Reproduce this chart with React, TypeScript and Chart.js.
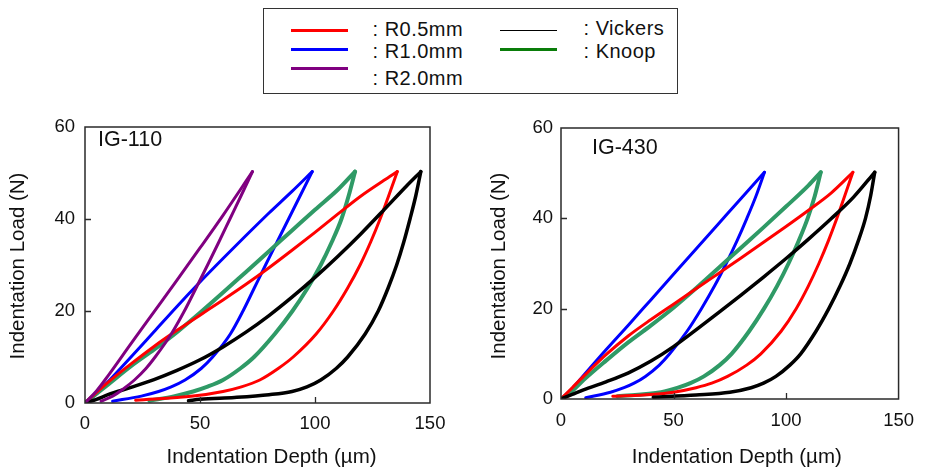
import React, { useEffect, useRef } from 'react';
import { Chart, registerables } from 'chart.js';

Chart.register(...registerables);

type Pt = [number, number];

const X_TICKS = [0, 50, 100, 150];
const Y_TICKS = [0, 20, 40, 60];
const X_TITLE = 'Indentation Depth (µm)';
const Y_TITLE = 'Indentation Load (N)';
const LEGEND_LEFT = ['R0.5mm', 'R1.0mm', 'R2.0mm'];
const LEGEND_RIGHT = ['Vickers', 'Knoop'];

const C_R05 = '#ff0000';
const C_R10 = '#0000ff';
const C_R20 = '#800080';
const C_VIC = '#000000';
const C_KNP = '#2f9a66';
const C_KNP_LEG = '#0a7d0a';

// ---------- IG-110 ----------
const IG110_R05_LOAD: Pt[] = [[0, 0], [5, 2.3], [10, 4.5], [20, 8.5], [30, 12.3], [40, 15.8], [50, 19.1], [60, 22.4], [70, 25.8], [80, 29.4], [90, 33.2], [100, 37.1], [110, 41.1], [120, 45], [130, 48.4], [135.8, 50.3]];
const IG110_R05_UNLOAD: Pt[] = [[135.8, 50.3], [132, 45], [128.3, 40], [124.2, 35], [119.6, 30], [114.2, 25], [108, 20], [100.5, 15], [90.5, 10], [84, 7.5], [76, 5], [68, 3.5], [60, 2.5], [47, 1.5], [22, 0.6]];
const IG110_R10_LOAD: Pt[] = [[0, 0], [5, 2], [10, 4.6], [20, 10], [30, 15.5], [40, 21], [50, 26.3], [60, 31.4], [70, 36.4], [80, 41.3], [90, 46], [98.8, 50.3]];
const IG110_R10_UNLOAD: Pt[] = [[98.8, 50.3], [93.5, 45], [88.5, 40], [83.5, 35], [78.5, 30], [73.6, 25], [68.7, 20], [63.2, 15], [55.5, 10], [50.5, 7.5], [43.5, 5], [37.5, 3.5], [32, 2.5], [24.5, 1.5], [12, 0.4]];
const IG110_R20_LOAD: Pt[] = [[0, 0], [5, 2.6], [10, 5.9], [20, 12.9], [30, 19.8], [40, 26.7], [50, 33.7], [60, 40.8], [72.8, 50.3]];
const IG110_R20_UNLOAD: Pt[] = [[72.8, 50.3], [67.8, 45], [63, 40], [58.2, 35], [53.3, 30], [48.3, 25], [43.2, 20], [37.5, 15], [30.5, 10], [26.5, 7.5], [21.5, 5], [16.5, 3], [12, 1.5], [7, 0.4]];
const IG110_VIC_LOAD: Pt[] = [[0, 0], [5, 0.8], [10, 1.8], [20, 3.4], [30, 5.1], [40, 7.1], [50, 9.4], [60, 12.2], [70, 15.4], [80, 19], [90, 23], [100, 27.3], [110, 31.9], [120, 36.8], [130, 42], [140, 47.3], [146, 50.3]];
const IG110_VIC_UNLOAD: Pt[] = [[146, 50.3], [143.8, 45], [141.3, 40], [138.6, 35], [135.5, 30], [131.8, 25], [127.5, 20], [121.8, 15], [114.2, 10], [109.2, 7.5], [102.5, 5], [96.5, 3.5], [90, 2.5], [80, 1.8], [65, 1.2], [50, 0.8], [45, 0.5]];
const IG110_KNP_LOAD: Pt[] = [[0, 0], [5, 2], [10, 4], [20, 8], [30, 11.6], [40, 15.4], [50, 19.6], [60, 24], [70, 28.5], [80, 33], [90, 37.5], [100, 42], [110, 46.4], [117.4, 50.3]];
const IG110_KNP_UNLOAD: Pt[] = [[117.4, 50.3], [114.6, 45], [111.5, 40], [107.3, 35], [102.5, 30], [96.8, 25], [90.2, 20], [82.5, 15], [73.5, 10], [67.5, 7.5], [60, 5], [53, 3.5], [47, 2.5], [39, 1.5], [28, 0.5]];

// ---------- IG-430 ----------
const IG430_R05_LOAD: Pt[] = [[0, 0], [5, 2.5], [10, 5], [20, 9.8], [30, 14], [40, 17.6], [50, 21], [60, 24.4], [70, 27.8], [80, 31.2], [90, 34.7], [100, 38.2], [110, 41.8], [120, 45.6], [129.7, 50.2]];
const IG430_R05_UNLOAD: Pt[] = [[129.7, 50.2], [126.1, 45], [122.6, 40], [118.8, 35], [114.6, 30], [109.9, 25], [104.5, 20], [97.8, 15], [88.8, 10], [82.5, 7.5], [74, 5], [67, 3.5], [60, 2.5], [50, 1.5], [40, 1], [23, 0.6]];
const IG430_R10_LOAD: Pt[] = [[0, 0], [5, 2.3], [10, 5.2], [20, 10.9], [30, 16.4], [40, 22], [50, 27.6], [60, 33.2], [70, 38.8], [80, 44.4], [90.4, 50.2]];
const IG430_R10_UNLOAD: Pt[] = [[90.4, 50.2], [86.7, 45], [82.6, 40], [78.2, 35], [73.4, 30], [68.2, 25], [62.4, 20], [56, 15], [48.3, 10], [43.7, 7.5], [37.5, 5], [32.5, 3.5], [28, 2.5], [22, 1.5], [11, 0.3]];
const IG430_VIC_LOAD: Pt[] = [[0, 0], [5, 1], [10, 2], [20, 3.8], [30, 5.8], [40, 8.4], [50, 11.6], [60, 15.3], [70, 19.1], [80, 23], [90, 27], [100, 31.1], [110, 35.4], [120, 39.9], [130, 44.7], [139.4, 50.2]];
const IG430_VIC_UNLOAD: Pt[] = [[139.4, 50.2], [137.6, 45], [135.3, 40], [132.1, 35], [128.4, 30], [124, 25], [119, 20], [113.3, 15], [106.5, 10], [101.7, 7.5], [95.5, 5], [90, 3.5], [84.5, 2.5], [75, 1.5], [60, 0.9], [41, 0.4]];
const IG430_KNP_LOAD: Pt[] = [[0, 0], [5, 1.8], [10, 4.2], [20, 8.5], [30, 12.6], [40, 16.3], [50, 20.2], [60, 24.5], [70, 29], [80, 33.5], [90, 38], [100, 42.6], [110, 47.3], [115.4, 50.2]];
const IG430_KNP_UNLOAD: Pt[] = [[115.4, 50.2], [112.8, 45], [109.6, 40], [105.6, 35], [101.1, 30], [96, 25], [90.2, 20], [83.6, 15], [75.8, 10], [70.5, 7.5], [63.5, 5], [57.5, 3.5], [52, 2.5], [44.5, 1.5], [25, 0.6]];

const FONT = '"Liberation Sans", Arial, Helvetica, sans-serif';

function ds(pts: Pt[], color: string, width: number) {
  const sorted = [...pts].sort((a, b) => a[0] - b[0]);
  return {
    data: sorted.map(([x, y]) => ({ x, y })),
    borderColor: color,
    backgroundColor: color,
    borderWidth: width,
    pointRadius: 0,
    cubicInterpolationMode: 'monotone' as const,
    fill: false,
    showLine: true,
    borderCapStyle: 'round' as const,
    borderJoinStyle: 'round' as const,
  };
}

const framePlugin = {
  id: 'frameDeco',
  afterDraw(chart: any, _args: any, opts: any) {
    const { ctx, chartArea } = chart;
    const { left, right, top, bottom } = chartArea;
    const xs = chart.scales.x;
    const ys = chart.scales.y;
    ctx.save();
    ctx.strokeStyle = '#2a2a2a';
    ctx.lineWidth = 1.5;
    ctx.strokeRect(left, top, right - left, bottom - top);
    ctx.lineWidth = 1.3;
    ctx.beginPath();
    for (const v of X_TICKS.slice(1, -1)) {
      const px = Math.round(xs.getPixelForValue(v)) + 0.5;
      ctx.moveTo(px, bottom);
      ctx.lineTo(px, bottom - 6);
    }
    for (const v of Y_TICKS.slice(1, -1)) {
      const py = Math.round(ys.getPixelForValue(v)) + 0.5;
      ctx.moveTo(left, py);
      ctx.lineTo(left + 6, py);
    }
    ctx.stroke();

    ctx.fillStyle = '#111';
    ctx.textBaseline = 'middle';
    ctx.textAlign = 'left';
    ctx.font = `21.5px ${FONT}`;
    ctx.fillText(opts.label, left + opts.labelDx, top + opts.labelDy);

    ctx.font = `20.5px ${FONT}`;
    ctx.textAlign = 'center';
    ctx.fillText(X_TITLE, (left + right) / 2 + opts.xTitleDx, opts.xTitleY);

    ctx.translate(opts.yTitleX, (top + bottom) / 2 + opts.yTitleDy);
    ctx.rotate(-Math.PI / 2);
    ctx.fillText(Y_TITLE, 0, 0);
    ctx.restore();
  },
};

type PanelProps = {
  left: number;
  datasets: any[];
  padTop: number;
  padRight: number;
  yWidth: number;
  xHeight: number;
  xPad: number;
  yPad: number;
  deco: any;
};

function Panel(p: PanelProps) {
  const ref = useRef<HTMLCanvasElement | null>(null);
  useEffect(() => {
    if (!ref.current) return;
    const chart = new Chart(ref.current, {
      type: 'line',
      data: { datasets: p.datasets },
      plugins: [framePlugin],
      options: {
        responsive: false,
        animation: false,
        devicePixelRatio: 1,
        layout: { padding: { top: p.padTop, right: p.padRight, left: 0, bottom: 0 } },
        plugins: {
          legend: { display: false },
          tooltip: { enabled: false },
          frameDeco: p.deco,
        } as any,
        scales: {
          x: {
            type: 'linear',
            min: 0,
            max: 150,
            grid: { display: false, drawTicks: false },
            border: { display: false },
            afterBuildTicks: (s: any) => {
              s.ticks = X_TICKS.map((v) => ({ value: v }));
            },
            afterFit: (s: any) => {
              s.height = p.xHeight;
            },
            ticks: {
              padding: p.xPad,
              maxRotation: 0,
              color: '#111',
              font: { family: FONT, size: 18.5 },
            },
          },
          y: {
            type: 'linear',
            min: 0,
            max: 60,
            grid: { display: false, drawTicks: false },
            border: { display: false },
            afterBuildTicks: (s: any) => {
              s.ticks = Y_TICKS.map((v) => ({ value: v }));
            },
            afterFit: (s: any) => {
              s.width = p.yWidth;
            },
            ticks: {
              padding: p.yPad,
              color: '#111',
              font: { family: FONT, size: 18.5 },
            },
          },
        },
      } as any,
    });
    return () => chart.destroy();
  }, []);
  return (
    <canvas
      ref={ref}
      width={460}
      height={374}
      style={{ position: 'absolute', left: p.left, top: 100, width: 460, height: 374 }}
    />
  );
}

const leftSets = [
  ds(IG110_R20_LOAD, C_R20, 3),
  ds(IG110_R20_UNLOAD, C_R20, 3),
  ds(IG110_VIC_LOAD, C_VIC, 3.5),
  ds(IG110_VIC_UNLOAD, C_VIC, 3.5),
  ds(IG110_R05_LOAD, C_R05, 3),
  ds(IG110_R05_UNLOAD, C_R05, 3),
  ds(IG110_KNP_LOAD, C_KNP, 4),
  ds(IG110_KNP_UNLOAD, C_KNP, 4),
  ds(IG110_R10_LOAD, C_R10, 3),
  ds(IG110_R10_UNLOAD, C_R10, 3),
];

const rightSets = [
  ds(IG430_VIC_LOAD, C_VIC, 3.5),
  ds(IG430_VIC_UNLOAD, C_VIC, 3.5),
  ds(IG430_R05_LOAD, C_R05, 3),
  ds(IG430_R05_UNLOAD, C_R05, 3),
  ds(IG430_KNP_LOAD, C_KNP, 4),
  ds(IG430_KNP_UNLOAD, C_KNP, 4),
  ds(IG430_R10_LOAD, C_R10, 3),
  ds(IG430_R10_UNLOAD, C_R10, 3),
];

const legendText: React.CSSProperties = {
  position: 'absolute',
  fontSize: 20,
  lineHeight: '20px',
  letterSpacing: '0.5px',
  color: '#111',
  whiteSpace: 'nowrap',
  fontFamily: FONT,
};

function Legend() {
  const lineStyle = (x: number, y: number, color: string, h: number): React.CSSProperties => ({
    position: 'absolute',
    left: x,
    top: y - h / 2,
    width: 57,
    height: h,
    background: color,
  });
  const leftColors = [C_R05, C_R10, C_R20];
  const leftLineY = [31, 50, 69];
  const leftTextY = [19.5, 41, 68.5];
  const rightColors = [C_VIC, C_KNP_LEG];
  const rightLineY = [31, 50];
  const rightLineH = [1.5, 3.5];
  const rightTextY = [18.5, 41.5];
  return (
    <div
      style={{
        position: 'absolute',
        left: 263,
        top: 8,
        width: 413,
        height: 84,
        border: '1.5px solid #333',
      }}
    >
      {LEGEND_LEFT.map((name, i) => (
        <React.Fragment key={name}>
          <div style={lineStyle(291 - 264.5, leftLineY[i] - 9.5, leftColors[i], 3.5)} />
          <span style={{ ...legendText, left: 373 - 264.5, top: leftTextY[i] - 9.5 }}>: {name}</span>
        </React.Fragment>
      ))}
      {LEGEND_RIGHT.map((name, i) => (
        <React.Fragment key={name}>
          <div style={lineStyle(500 - 264.5, rightLineY[i] - 9.5, rightColors[i], rightLineH[i])} />
          <span style={{ ...legendText, left: 584 - 264.5, top: rightTextY[i] - 9.5 }}>: {name}</span>
        </React.Fragment>
      ))}
    </div>
  );
}

export default function App() {
  return (
    <div
      style={{
        position: 'absolute',
        left: 0,
        top: 0,
        width: 925,
        height: 474,
        background: '#ffffff',
        overflow: 'hidden',
        fontFamily: FONT,
      }}
    >
      <Legend />
      <Panel
        left={0}
        datasets={leftSets}
        padTop={27}
        padRight={30}
        yWidth={85}
        xHeight={71}
        xPad={10}
        yPad={10}
        deco={{ label: 'IG-110', labelDx: 13, labelDy: 13, xTitleDx: 14, xTitleY: 357, yTitleX: 18.5, yTitleDy: 1 }}
      />
      <Panel
        left={465}
        datasets={rightSets}
        padTop={28}
        padRight={14}
        yWidth={96}
        xHeight={75}
        xPad={11}
        yPad={8}
        deco={{ label: 'IG-430', labelDx: 31, labelDy: 20, xTitleDx: 7, xTitleY: 357, yTitleX: 34, yTitleDy: 2.5 }}
      />
    </div>
  );
}
